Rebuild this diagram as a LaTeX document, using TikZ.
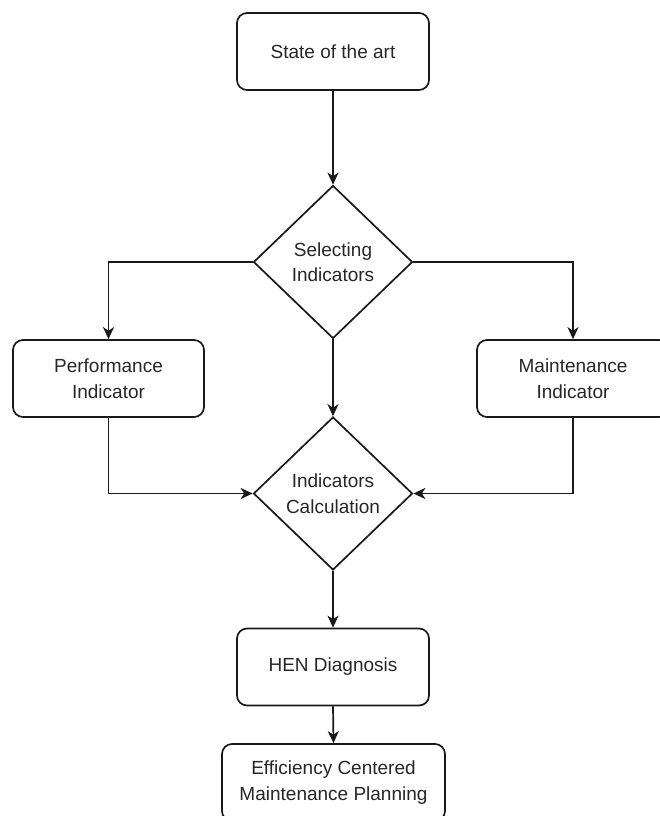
\documentclass[tikz,border=0pt]{standalone}
\usepackage{fontspec}
\setmainfont{Liberation Sans}
\usetikzlibrary{shapes.geometric,arrows.meta}
\begin{document}
\begin{tikzpicture}[x=1pt,y=-1pt,
  every node/.style={font=\fontsize{19}{25.5}\selectfont, text=black!85, align=center},
  procbox/.style={draw=black!90, line width=1.7pt, rounded corners=10pt, minimum width=192pt, minimum height=77pt, inner sep=0pt},
  decision/.style={draw=black!90, line width=1.7pt, diamond, minimum width=159pt, minimum height=153pt, inner sep=0pt},
  conn/.style={draw=black!90, line width=1.7pt, -{Stealth[length=12pt,width=11pt,inset=3.5pt]}}
]
\useasboundingbox (0,0) rectangle (660,816);
\node[procbox] (state) at (333,51.5) {State of the art};
\node[decision] (sel) at (333,262) {Selecting\\Indicators};
\node[procbox, minimum width=191pt] (perf) at (108.5,378.5) {Performance\\Indicator};
\node[procbox] (maint) at (573,378.5) {Maintenance\\Indicator};
\node[decision] (calc) at (333,493.5) {Indicators\\Calculation};
\node[procbox] (hen) at (333,667) {HEN Diagnosis};
\node[procbox, minimum width=223pt] (eff) at (333.5,782.5) {Efficiency Centered\\Maintenance Planning};
\draw[conn] (state.south) -- (sel.north);
\draw[conn] (sel.west) -| (perf.north);
\draw[conn] (sel.east) -| (maint.north);
\draw[conn] (sel.south) -- (calc.north);
\draw[conn] (perf.south) |- (calc.west);
\draw[conn] (maint.south) |- (calc.east);
\draw[conn] (calc.south) -- (hen.north);
\draw[conn] (hen.south) -- (eff.north);
\end{tikzpicture}
\end{document}
